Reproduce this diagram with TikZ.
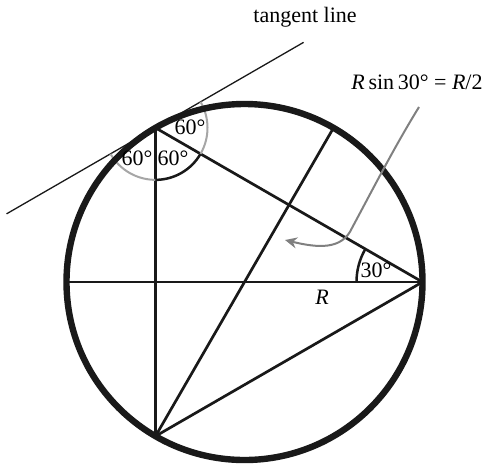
\documentclass[tikz,border=0pt]{standalone}
\usepackage{fontspec}
\setmainfont{Liberation Serif}
\usetikzlibrary{arrows.meta,calc}
\begin{document}
\begin{tikzpicture}[x=0.5pt,y=0.5pt,
  rim/.style={line width=3.2pt,draw=black!90},
  chord/.style={line width=1.35pt,draw=black!90},
  tangentstyle/.style={line width=0.65pt,draw=black!90},
  greyarc/.style={line width=1pt,draw=black!35},
  blackarc/.style={line width=1.25pt,draw=black!90},
  pointer/.style={line width=1pt,draw=black!50,-{Stealth[length=6pt,width=5.5pt,inset=2pt,fill=black!50]}},
  lbl/.style={font=\fontsize{11}{13}\selectfont,inner sep=0pt}
]
\useasboundingbox (0,0) rectangle (491,468);
\coordinate (C) at (244.5,186);
\coordinate (A) at ($(C)+(0:178)$);
\coordinate (B) at ($(C)+(120:178)$);
\coordinate (D) at ($(C)+(240:178)$);
\coordinate (E) at ($(C)+(60:178)$);
\coordinate (L) at ($(C)+(180:178)$);
\coordinate (T1) at ($(B)+(210:172)$);
\coordinate (T2) at ($(B)+(30:171)$);
% tangent line
\draw[tangentstyle] (T1) -- (T2);
% chords
\draw[chord] (L) -- (A);
\draw[chord] (B) -- (D);
\draw[chord] (D) -- (E);
\draw[chord] (B) -- (A) -- (D);
% angle arcs
\draw[greyarc] ($(B)+(210:52)$) arc[start angle=210,end angle=270,radius=52];
\draw[blackarc] ($(B)+(270:52)$) arc[start angle=270,end angle=330,radius=52];
\draw[greyarc] ($(B)+(330:52)$) arc[start angle=330,end angle=390,radius=52];
\draw[blackarc] ($(A)+(150:66)$) arc[start angle=150,end angle=180,radius=66];
% circle
\draw[rim] (C) circle[radius=178];
% labels
\node[lbl] (a1) at (190,341) {60°};
\node[lbl] (a2) at (137,310) {60°};
\node[lbl] (a3) at (173,310) {60°};
\node[lbl] (a4) at (376,198) {30°};
\node[lbl] (r) at (322,171) {\itshape R};
\node[lbl] (tl) at (305,451) {tangent line};
\node[lbl] (f) at (417,386) {{\itshape R}\,sin\,30° = {\itshape R}/2};
% pointer
\coordinate (P0) at (419,361);
\coordinate (P1) at (352,240);
\coordinate (P2) at (285,228);
\draw[pointer] (P0) .. controls (395,322) and (375,283) .. (P1) .. controls (342,218) and (318,220) .. (P2);
\end{tikzpicture}
\end{document}
